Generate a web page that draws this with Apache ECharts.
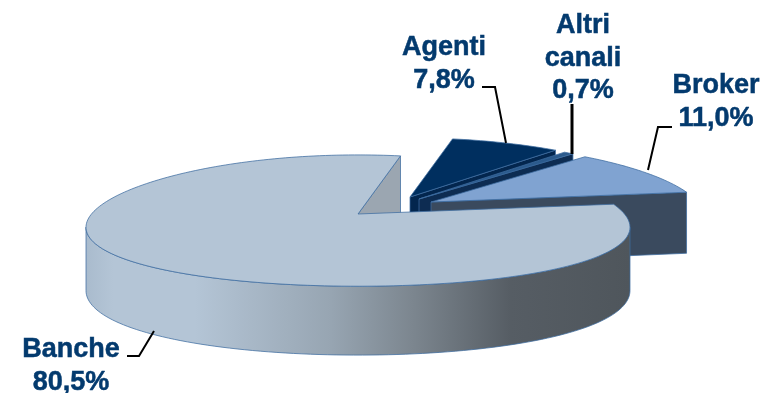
<!DOCTYPE html>
<html>
<head>
<meta charset="utf-8">
<style>html,body{margin:0;padding:0;background:#fff}#chart{width:762px;height:393px}</style>
<script src="https://cdn.jsdelivr.net/npm/echarts@6/dist/echarts.min.js"></script>
</head>
<body>
<div id="chart"></div>
<script>
// Distribution channels, clockwise from the first slice
const channelNames = ['Agenti', 'Altri canali', 'Broker', 'Banche'];
const channelShares = [7.8, 0.7, 11.0, 80.5];

// Tilted-disc geometry
const startAngle = 11;
const centerX = 358, centerY = 214;
const radiusX = 266.5, radiusY = 65, depth = 62;
const perspectiveX = 0.2, perspectiveY = 0.1;
const sliceOffsets = [[52, -17], [61, -15], [73, -12], [0, 0]];

// Slice styling
const topColors = ['#002f5f', '#2b5a8c', '#80a3d1', '#b4c5d6'];
const faceColors = ['#03264e', '#0d2c52', '#3a4a5e', '#9ba6b1'];
const edgeColor = 'rgba(62,108,160,0.75)';
const wallFill = {
  type: 'linear', global: true, x: 86, y: 0, x2: 630, y2: 0,
  colorStops: [
    { offset: 0, color: '#a9bbcd' }, { offset: 0.05, color: '#b4c5d6' },
    { offset: 0.2, color: '#b4c5d6' }, { offset: 0.45, color: '#97a5b2' },
    { offset: 0.6, color: '#7c868f' }, { offset: 0.78, color: '#565d64' },
    { offset: 1, color: '#4f565c' }
  ]
};
const textColor = '#033a6e';

// Label text blocks and their leader lines
const labelCenters = [[444, 64], [583, 58.5], [716, 102], [71, 366]];
const labelLines = [
  ['Agenti', '7,8%'], ['Altri', 'canali', '0,7%'], ['Broker', '11,0%'], ['Banche', '80,5%']
];
const leaderPaths = [
  [[482, 87], [495, 87], [506, 143]],
  [[572, 104], [572, 154]],
  [[672, 127], [658, 127], [648, 170]],
  [[127, 356], [139, 356], [154, 331]]
];
const leaderWidths = [2, 3, 2, 2];

const rad = d => d * Math.PI / 180;
function project(angle, offset, drop) {
  const z = Math.cos(rad(angle));
  return [
    centerX + offset[0] + radiusX * Math.sin(rad(angle)) / (1 + perspectiveX * z),
    centerY + offset[1] - radiusY * z / (1 + perspectiveY * z) + drop / (1 + perspectiveY * z)
  ];
}
function arc(from, to, offset, drop) {
  const pts = [];
  const steps = Math.max(2, Math.ceil(Math.abs(to - from) / 1.5));
  for (let i = 0; i <= steps; i++) pts.push(project(from + (to - from) * i / steps, offset, drop));
  return pts;
}
function polygon(points, fill, stroke) {
  return {
    type: 'polygon', shape: { points },
    style: { fill, stroke: stroke || edgeColor, lineWidth: 1 }
  };
}

const sliceStarts = [];
channelShares.reduce((acc, share, i) => { sliceStarts[i] = acc; return acc + share / 100 * 360; }, startAngle);

function renderSlice(params, api) {
  const i = api.value(0);
  const from = sliceStarts[i];
  const to = from + api.value(1) / 100 * 360;
  const offset = sliceOffsets[i];
  const children = [];
  const apex = [centerX + offset[0], centerY + offset[1]];
  const apexLow = [apex[0], apex[1] + depth];

  // Cut face on the clockwise side
  children.push(polygon([apex, project(to, offset, 0), project(to, offset, depth), apexLow], faceColors[i]));

  // Outer wall, between the two silhouette points of the disc
  const wallFrom = Math.max(from, 101.5), wallTo = Math.min(to, 258.5);
  if (wallTo > wallFrom) {
    const upper = arc(wallFrom, wallTo, offset, 0);
    const lower = arc(wallTo, wallFrom, offset, depth);
    children.push(polygon(upper.concat(lower), wallFill));
  }

  // Top surface
  children.push(polygon([apex].concat(arc(from, to, offset, 0)), topColors[i]));

  // Leader line and label
  children.push({
    type: 'polyline', shape: { points: leaderPaths[i] },
    style: { fill: null, stroke: '#000', lineWidth: leaderWidths[i] }
  });
  children.push({
    type: 'text',
    style: {
      x: labelCenters[i][0], y: labelCenters[i][1],
      text: labelLines[i].join('\n'),
      fill: textColor, stroke: textColor, lineWidth: 0.5,
      align: 'center', verticalAlign: 'middle',
      font: 'bold 27px "Liberation Sans"', lineHeight: 32.5
    }
  });
  return { type: 'group', children };
}

const chart = echarts.init(document.getElementById('chart'), null, { renderer: 'canvas' });
chart.setOption({
  backgroundColor: '#fff',
  animation: false,
  series: [{
    type: 'custom',
    coordinateSystem: 'none',
    silent: true,
    renderItem: renderSlice,
    data: channelShares.map((share, i) => [i, share, channelNames[i]])
  }]
});
</script>
</body>
</html>
